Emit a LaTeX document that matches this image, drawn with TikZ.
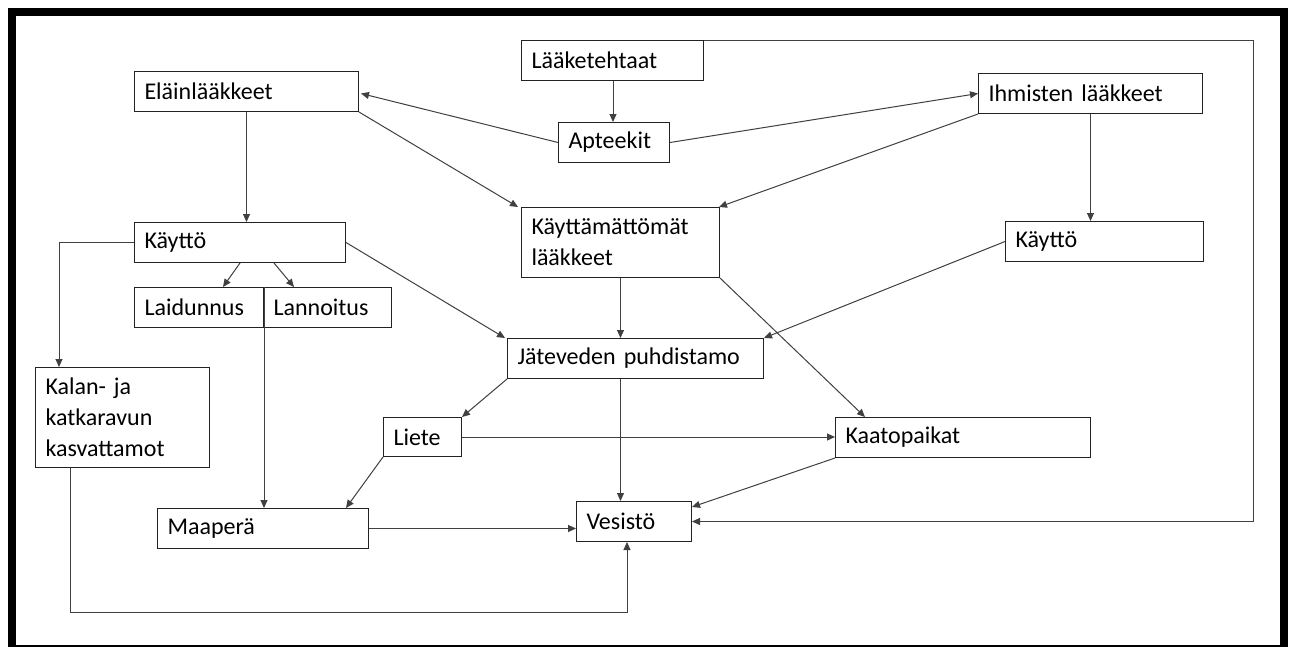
\documentclass[tikz,border=0pt]{standalone}
\usepackage{fontspec}
\setmainfont{Carlito}[WordSpace=0.8]
\usetikzlibrary{arrows.meta,calc}
\definecolor{linegray}{HTML}{404040}
\definecolor{boxline}{HTML}{222222}
\tikzset{
  box/.style={draw=boxline, line width=1pt, rectangle, anchor=north west,
    inner xsep=10pt, inner ysep=0pt, align=left, text=black,
    font=\fontsize{24}{31}\selectfont},
  conn/.style={draw=linegray, line width=1pt, -{Triangle[length=8pt,width=7pt]}},
  plain/.style={draw=linegray, line width=1pt},
}
\newcommand{\bx}[6]{\node[box, minimum width=#4pt, minimum height=#5pt, text width=#4pt-20pt] (#1) at (#2,#3) {#6};}
\begin{document}
\begin{tikzpicture}[x=1pt,y=-1pt]
\useasboundingbox (0,0) rectangle (1296,646);
\clip (0,0) rectangle (1296,646);
\fill[white] (0,0) rectangle (1296,646);
% frame
\draw[line width=8pt, black] (12,12) rectangle (1284,649);
% boxes
\bx{lae}{521}{40}{182}{40}{Lääketehtaat}
\bx{ela}{134}{71}{224}{40}{Eläinlääkkeet}
\bx{apt}{558}{122}{111}{40}{Apteekit}
\bx{ihm}{978}{73}{224}{40}{Ihmisten lääkkeet}
\bx{kl}{134}{222}{211}{40}{Käyttö}
\bx{kay}{521}{207}{198}{70}{Käyttämättömät\\lääkkeet}
\bx{kr}{1005}{221}{198}{40}{Käyttö}
\bx{lai}{134}{287}{129}{40}{Laidunnus}
\bx{lan}{263}{287}{128}{40}{Lannoitus}
\bx{jat}{507}{338}{256}{40}{Jäteveden puhdistamo}
\bx{kal}{35}{367}{174}{100}{Kalan- ja\\katkaravun\\kasvattamot}
\bx{lie}{383}{417}{78}{39}{Liete}
\bx{kaa}{835}{417}{255}{40}{Kaatopaikat}
\bx{ves}{576}{501}{115}{40}{Vesistö}
\bx{maa}{157}{508}{211}{40}{Maaperä}
% helper coordinates
\coordinate (rtop) at (1253,40);
\coordinate (kalx) at ($(kal.south west)+(35,0)$);
\coordinate (kalb) at ($(kalx)+(0,144)$);
\coordinate (vesb) at ($(ves.south west)+(51,0)$);
% connectors
\draw[conn] ($(lae.south west)+(92,0)$) -- ($(apt.north west)+(55,0)$);
\draw[conn] (apt.west) -- ($(ela.east)+(2,2)$);
\draw[conn] (apt.east) -- (ihm.west);
\draw[conn] (ela.south east) -- ($(kay.north west)+(-3,0)$);
\draw[conn] (ihm.south west) -- ($(kay.north east)+(-1,0)$);
\draw[conn] (ela.south) -- (ela.south |- kl.north);
\draw[conn] (ihm.south) -- (ihm.south |- kr.north);
\draw[conn] (kl.west) -| ($(kal.north west)+(24,0)$);
\draw[conn] (kl.south) -- ($(lai.north east)+(-41,0)$);
\draw[conn] ($(kl.south)+(34,0)$) -- ($(lan.north west)+(31,0)$);
\draw[conn] (lai.north east) -- (lai.north east |- maa.north);
\draw[conn] (kl.east) -- ($(jat.north west)+(-2,0)$);
\draw[conn] (kr.west) -- (jat.north east);
\draw[conn] (kay.south) -- (kay.south |- jat.north);
\draw[conn] (kay.south east) -- ($(kaa.north west)+(30,0)$);
\draw[conn] (jat.south west) -- (lie.north east);
\draw[conn] (kay.south |- jat.south) -- (kay.south |- ves.north);
\draw[conn] (lie.east) -- (lie.east -| kaa.west);
\draw[conn] (lie.south west) -- ($(maa.north east)+(-23,0)$);
\draw[conn] (kaa.south west) -- ($(ves.north east)+(0,6)$);
\draw[conn] (maa.east) -- (maa.east -| ves.west);
\draw[conn] (lae.north east) -- (rtop) |- (ves.east);
\draw[conn] (kalx) -- (kalb) -| (vesb);
\end{tikzpicture}
\end{document}
